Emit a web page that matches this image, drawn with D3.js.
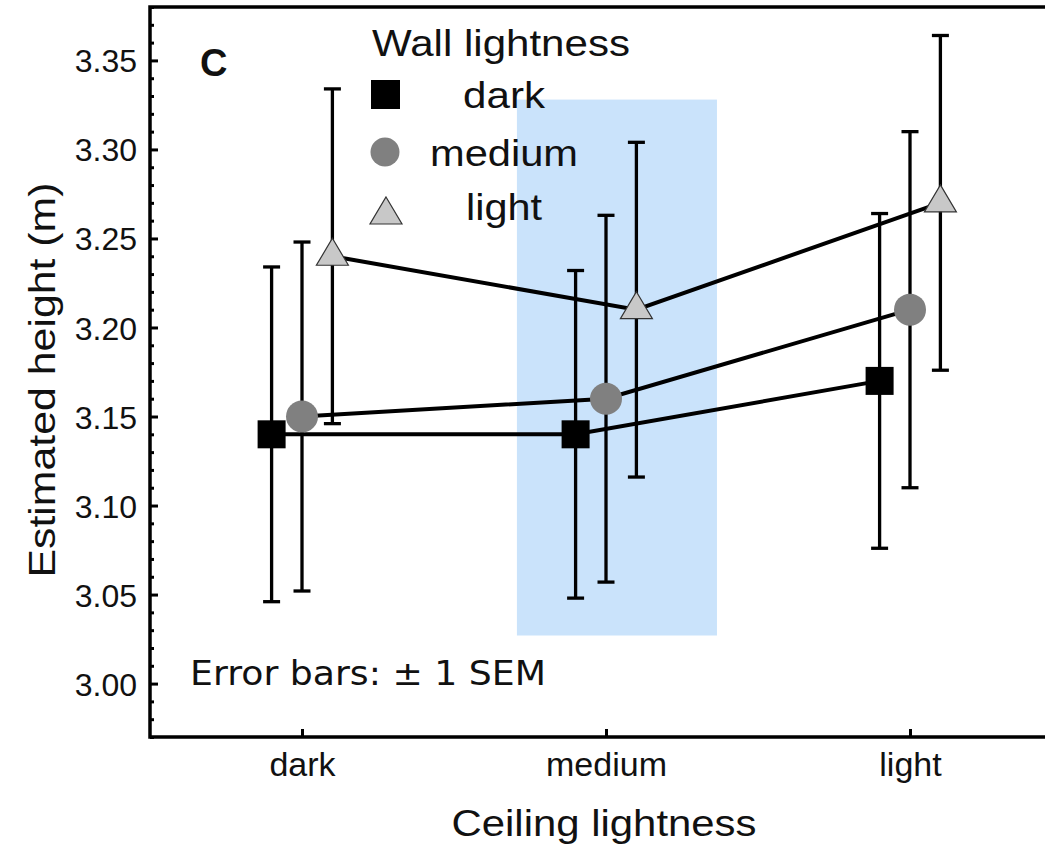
<!DOCTYPE html>
<html>
<head>
<meta charset="utf-8">
<script src="https://cdn.jsdelivr.net/npm/d3@7"></script>
<style>
  html, body { margin: 0; padding: 0; background: #fff; }
  svg { display: block; }
  text { font-family: "Liberation Sans", Arial, Helvetica, sans-serif; fill: #111; }
</style>
</head>
<body>
<svg id="chart" width="1045" height="849"></svg>
<script>
// Ceiling lightness on the x axis, wall lightness as series
const ceilingLevels = ["dark", "medium", "light"];
const wallLevels = ["dark", "medium", "light"];

// Mean estimated height (m) per ceiling level, one array per wall level
const meanWallDark = [3.14, 3.14, 3.17];
const meanWallMedium = [3.15, 3.16, 3.21];
const meanWallLight = [3.24, 3.21, 3.27];

// Standard error of the mean for each point
const semWallDark = [0.094, 0.092, 0.094];
const semWallMedium = [0.098, 0.103, 0.100];
const semWallLight = [0.094, 0.094, 0.094];

// Y axis ticks
const yMajorTicks = [3.00, 3.05, 3.10, 3.15, 3.20, 3.25, 3.30, 3.35];
const yMinorTicks = d3.range(297, 339).map(v => v / 100);

// Shaded range behind the "medium" ceiling condition (in metres)
const bandCategory = "medium";
const bandLow = 3.027;
const bandHigh = 3.328;

const series = [
  { name: wallLevels[0], means: meanWallDark, sems: semWallDark, shape: "square", fill: "#000000" },
  { name: wallLevels[1], means: meanWallMedium, sems: semWallMedium, shape: "circle", fill: "#808080" },
  { name: wallLevels[2], means: meanWallLight, sems: semWallLight, shape: "triangle", fill: "#c8c8c8" }
];

const svg = d3.select("#chart");
const plotLeft = 150, plotTop = 7, plotBottom = 737, plotRight = 1062;

const x = d3.scalePoint().domain(ceilingLevels).range([plotLeft, plotRight]).padding(0.5);
const y = d3.scaleLinear().domain([2.97, 3.38]).range([plotBottom, plotTop]);
const step = x.step();
const offsets = [-0.1 * step, 0, 0.1 * step];

// Wide label helper: slightly stretched Helvetica-style text
function label(sel, str, px, width) {
  return sel.style("font-size", px + "px")
    .attr("textLength", width).attr("lengthAdjust", "spacingAndGlyphs")
    .text(str);
}

// Highlight band
svg.append("rect")
  .attr("x", x(bandCategory) - 0.293 * step)
  .attr("width", 0.658 * step)
  .attr("y", y(bandHigh))
  .attr("height", y(bandLow) - y(bandHigh))
  .attr("fill", "#cae3fb");

// Frame (top, left, bottom)
svg.append("path")
  .attr("d", `M${plotRight + 20},${plotTop} H${plotLeft} V${plotBottom} H${plotRight + 20}`)
  .attr("fill", "none").attr("stroke", "#000").attr("stroke-width", 3.5);

// Y axis (ticks pointing inward)
const yAxis = d3.axisRight(y).tickValues(yMajorTicks).tickSize(8).tickFormat(d3.format(".2f"));
const yG = svg.append("g").attr("transform", `translate(${plotLeft},0)`).call(yAxis);
yG.select(".domain").remove();
yG.selectAll(".tick line").attr("stroke", "#000").attr("stroke-width", 3);
yG.selectAll(".tick text")
  .attr("x", -13).attr("dy", "0.36em").attr("text-anchor", "end")
  .style("font-size", "32px").style("font-family", "'Liberation Sans', Arial, sans-serif").attr("fill", "#111");

const yMinor = d3.axisRight(y).tickValues(yMinorTicks.filter(v => !yMajorTicks.some(m => Math.abs(m - v) < 1e-9))).tickSize(4).tickFormat("");
const yMinorG = svg.append("g").attr("transform", `translate(${plotLeft},0)`).call(yMinor);
yMinorG.select(".domain").remove();
yMinorG.selectAll(".tick line").attr("stroke", "#000").attr("stroke-width", 3);

// X axis (ticks pointing inward)
const xAxis = d3.axisTop(x).tickSize(8);
const xG = svg.append("g").attr("transform", `translate(0,${plotBottom})`).call(xAxis);
xG.select(".domain").remove();
xG.selectAll(".tick line").attr("stroke", "#000").attr("stroke-width", 3);
xG.selectAll(".tick text")
  .attr("y", 39).attr("dy", 0).attr("text-anchor", "middle")
  .style("font-size", "34px").style("font-family", "'Liberation Sans', Arial, sans-serif").attr("fill", "#111");

// Axis titles
label(svg.append("text")
  .attr("transform", "translate(55,380) rotate(-90)")
  .attr("text-anchor", "middle"), "Estimated height (m)", 37.5, 395);

label(svg.append("text")
  .attr("x", 604).attr("y", 836)
  .attr("text-anchor", "middle"), "Ceiling lightness", 36.5, 305);

// Panel letter
svg.append("text")
  .attr("x", 200).attr("y", 76)
  .style("font-size", "38px").style("font-weight", "bold")
  .text("C");

// Note on error bars
svg.append("text")
  .attr("x", 190).attr("y", 685)
  .style("font-family", "'DejaVu Sans', Verdana, sans-serif")
  .style("font-size", "34px")
  .attr("textLength", 356).attr("lengthAdjust", "spacingAndGlyphs")
  .text("Error bars: \u00b1 1 SEM");

// Connecting lines
const line = d3.line();
series.forEach((s, i) => {
  svg.append("path")
    .attr("d", line(ceilingLevels.map((c, j) => [x(c) + offsets[i], y(s.means[j])])))
    .attr("fill", "none").attr("stroke", "#000").attr("stroke-width", 4);
});

// Error bars
const capHalf = 8.5;
series.forEach((s, i) => {
  const g = svg.append("g").attr("stroke", "#000").attr("stroke-width", 3.3);
  ceilingLevels.forEach((c, j) => {
    const cx = x(c) + offsets[i];
    const hi = y(s.means[j] + s.sems[j]);
    const lo = y(s.means[j] - s.sems[j]);
    g.append("line").attr("x1", cx).attr("x2", cx).attr("y1", hi).attr("y2", lo);
    g.append("line").attr("x1", cx - capHalf).attr("x2", cx + capHalf).attr("y1", hi).attr("y2", hi);
    g.append("line").attr("x1", cx - capHalf).attr("x2", cx + capHalf).attr("y1", lo).attr("y2", lo);
  });
});

// Marker drawing helper
function drawMarker(g, shape, fill, cx, cy) {
  if (shape === "square") {
    g.append("rect").attr("x", cx - 14).attr("y", cy - 14).attr("width", 28).attr("height", 28).attr("fill", fill);
  } else if (shape === "circle") {
    g.append("circle").attr("cx", cx).attr("cy", cy).attr("r", 16).attr("fill", fill);
  } else {
    // triangle positioned by its centroid
    const h = 27, w = 32;
    g.append("path")
      .attr("d", `M${cx},${cy - 2 * h / 3} L${cx + w / 2},${cy + h / 3} L${cx - w / 2},${cy + h / 3} Z`)
      .attr("fill", fill).attr("stroke", "#333").attr("stroke-width", 1.2);
  }
}

series.forEach((s, i) => {
  const g = svg.append("g");
  ceilingLevels.forEach((c, j) => drawMarker(g, s.shape, s.fill, x(c) + offsets[i], y(s.means[j])));
});

// Legend
const legend = svg.append("g");
label(legend.append("text").attr("x", 372).attr("y", 55.5), "Wall lightness", 37, 258);
const legendRows = [94, 152, 210];
const legendBaselines = [107.5, 166, 220];
const legendWidths = [82, 148, 76];
series.forEach((s, i) => {
  const g = legend.append("g");
  if (s.shape === "square") {
    g.append("rect").attr("x", 371).attr("y", legendRows[i] - 14).attr("width", 29).attr("height", 29).attr("fill", s.fill);
  } else if (s.shape === "circle") {
    g.append("circle").attr("cx", 385).attr("cy", legendRows[i]).attr("r", 14.5).attr("fill", s.fill);
  } else {
    drawMarker(g, "triangle", s.fill, 386, legendRows[i] + 5);
  }
  label(legend.append("text").attr("x", 504).attr("y", legendBaselines[i])
    .attr("text-anchor", "middle"), s.name, 37, legendWidths[i]);
});
</script>
</body>
</html>
